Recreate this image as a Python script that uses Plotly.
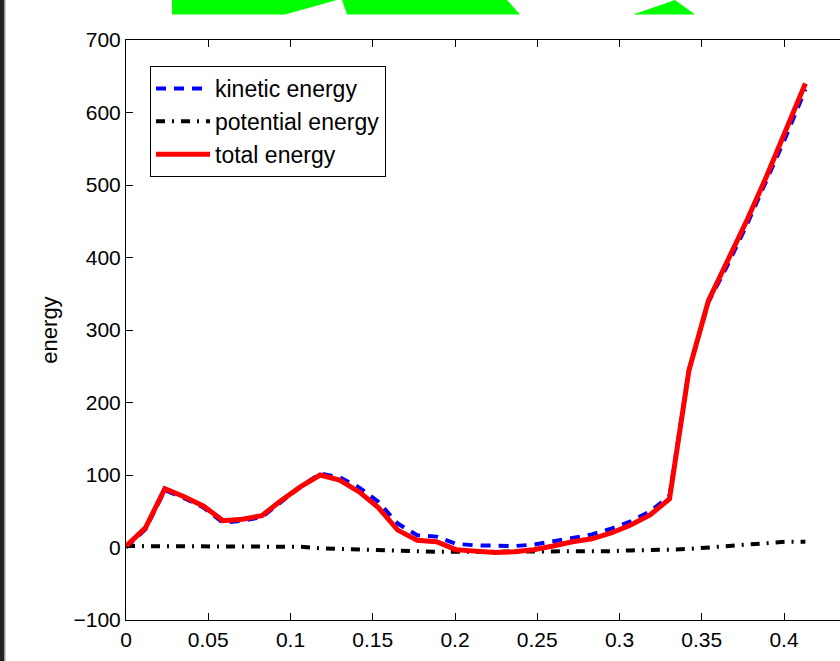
import plotly.graph_objects as go

# ---- data ----
t = [0.0000, 0.0118, 0.0236, 0.0354, 0.0472, 0.0590, 0.0708, 0.0826, 0.0944,
     0.1062, 0.1180, 0.1298, 0.1416, 0.1534, 0.1652, 0.1770, 0.1888, 0.2006,
     0.2124, 0.2242, 0.2360, 0.2478, 0.2596, 0.2714, 0.2832, 0.2950, 0.3068,
     0.3186, 0.3304, 0.3422, 0.3540, 0.3658, 0.3776, 0.3894, 0.4012, 0.4130]

kinetic = [0, 25, 79, 68, 55, 34, 37, 42, 63, 84, 102, 97, 83, 63, 33, 17, 15, 5,
           3, 2, 2, 4, 8, 13, 18, 26, 36, 50, 71, 245, 338, 390, 446, 505, 567, 632]

potential = [2, 2, 2, 2, 2, 2, 2, 2, 2, 1, -1, -2, -3, -4, -5, -6, -6, -6,
             -6, -6, -6, -6, -6, -6, -6, -5, -4, -4, -3, -2, 0, 3, 5, 7, 8, 8]

total = [2, 27, 81, 70, 57, 37, 39, 44, 65, 84, 100, 93, 77, 55, 24, 10, 8, -3,
         -5, -7, -6, -3, 2, 8, 12, 20, 31, 45, 67, 244, 340, 395, 452, 512, 575, 640]

series_names = ["kinetic energy", "potential energy", "total energy"]
y_ticks = [-100, 0, 100, 200, 300, 400, 500, 600, 700]
x_ticks = [0, 0.05, 0.1, 0.15, 0.2, 0.25, 0.3, 0.35, 0.4]
x_ticklabels = ["0", "0.05", "0.1", "0.15", "0.2", "0.25", "0.3", "0.35", "0.4"]

# ---- layout geometry (pixels) ----
W, H = 840, 661
ML, MR, MT, MB = 126, 0, 40, 41
PW = W - ML - MR
PH = H - MT - MB


def px(x):
    return (x - ML) / PW


def py(y):
    return (H - MB - y) / PH


FONT = "Liberation Sans, Arial, Helvetica, sans-serif"

fig = go.Figure()
fig.add_trace(go.Scatter(x=t, y=kinetic, mode="lines", name=series_names[0],
                         line=dict(color="#0000ff", width=4, dash="10px,8px")))
fig.add_trace(go.Scatter(x=t, y=potential, mode="lines", name=series_names[1],
                         line=dict(color="#000000", width=4, dash="9px,7px,2px,7px")))
fig.add_trace(go.Scatter(x=t, y=total, mode="lines", name=series_names[2],
                         line=dict(color="#ff0000", width=5)))

x_right = (W - ML) / 1645.0  # axis extends past the window edge

shapes = [
    # dark window edge on the left
    dict(type="rect", xref="paper", yref="paper", x0=px(0), x1=px(4), y0=py(H), y1=py(0),
         fillcolor="#262223", line=dict(width=0), layer="above"),
    dict(type="rect", xref="paper", yref="paper", x0=px(4), x1=px(5.5), y0=py(H), y1=py(0),
         fillcolor="#9a9a9a", line=dict(width=0), layer="above"),
]
green_polys = [
    [(172, 0), (337, 0), (285, 14.5), (172, 14.5)],
    [(342, 0), (507, 0), (520, 14.5), (347, 14.5)],
    [(633, 14.5), (675, 0), (695, 14.5)],
]
for poly in green_polys:
    path = "M " + " L ".join(f"{px(a):.5f},{py(b):.5f}" for a, b in poly) + " Z"
    shapes.append(dict(type="path", xref="paper", yref="paper", path=path,
                       fillcolor="#00ff00", line=dict(width=0), layer="above"))

fig.update_layout(
    width=W, height=H,
    margin=dict(l=ML, r=MR, t=MT, b=MB, pad=0),
    paper_bgcolor="white", plot_bgcolor="white",
    font=dict(family=FONT, size=21, color="black"),
    showlegend=True,
    legend=dict(x=px(150), y=py(66), xanchor="left", yanchor="top",
                bgcolor="white", bordercolor="black", borderwidth=1,
                font=dict(family=FONT, size=23, color="black"),
                tracegroupgap=0, itemwidth=54),
    shapes=shapes,
    annotations=[dict(text="t", xref="paper", yref="paper", x=px(487), y=py(659),
                      xanchor="center", yanchor="top", showarrow=False,
                      font=dict(family=FONT, size=21, color="black"))],
)

fig.update_xaxes(range=[0, x_right], tickvals=x_ticks, ticktext=x_ticklabels,
                 showgrid=False, zeroline=False, showline=True, linecolor="black",
                 linewidth=1, mirror="ticks", ticks="inside", ticklen=7,
                 tickcolor="black", tickwidth=1, ticklabelstandoff=1)
fig.update_yaxes(range=[-100, 700], tickvals=y_ticks,
                 showgrid=False, zeroline=False, showline=True, linecolor="black",
                 linewidth=1, mirror=False, ticks="inside", ticklen=7,
                 tickcolor="black", tickwidth=1,
                 title=dict(text="energy", standoff=9, font=dict(family=FONT, size=22)))

fig.write_html("out.html",
               config={"displayModeBar": False},
               post_script="document.body.style.margin='0';document.body.style.overflow='hidden';")
